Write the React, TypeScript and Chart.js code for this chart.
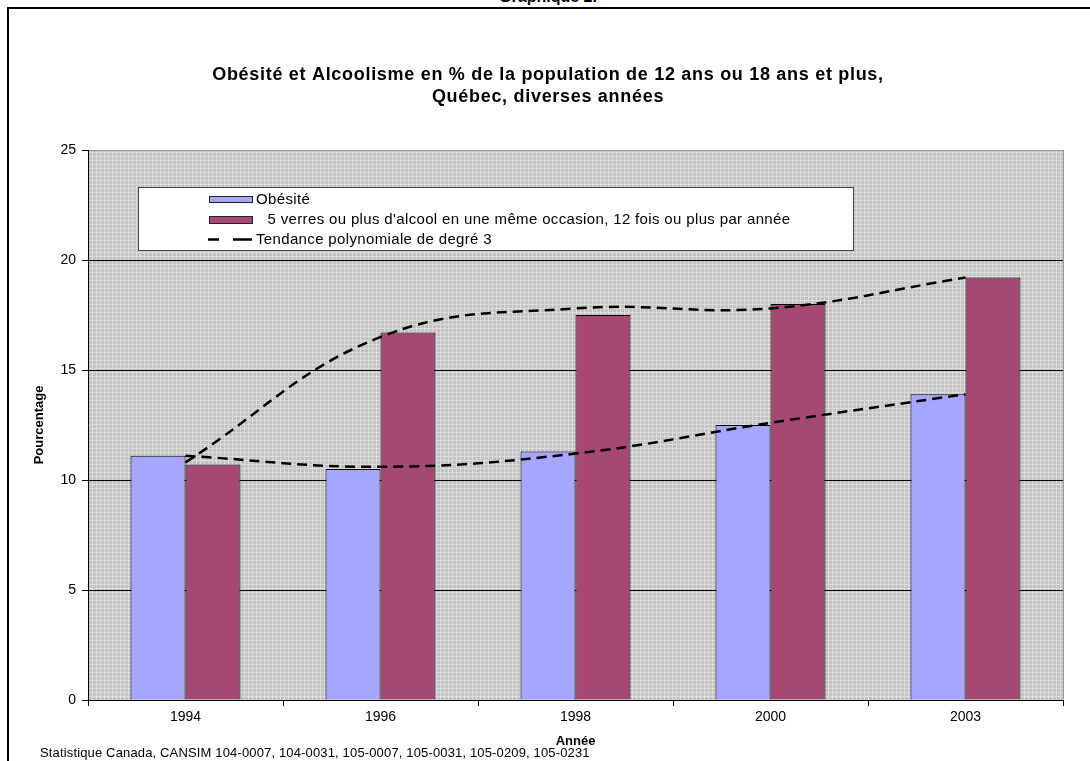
import React, { useEffect, useRef } from 'react';
import { Chart, registerables } from 'chart.js';

Chart.register(...registerables);

const years = ['1994', '1996', '1998', '2000', '2003'];
const obesite = [11.1, 10.5, 11.3, 12.5, 13.9];
const alcool = [10.7, 16.7, 17.5, 18.0, 19.2];
const trendObesite = [11.1, 10.6, 11.2, 12.6, 13.9];
const trendAlcool = [10.8, 16.5, 17.8, 17.8, 19.2];
const yMin = 0;
const yMax = 25;
const yStep = 5;

const headerText = 'Graphique 2.';
const titleLines = [
  'Obésité et Alcoolisme en % de la population de 12 ans ou 18 ans et plus,',
  'Québec, diverses années',
];
const legendLabels = [
  'Obésité',
  ' 5 verres ou plus d\'alcool en une même occasion, 12 fois ou plus par année',
  'Tendance polynomiale de degré 3',
];
const xTitle = 'Année';
const yTitle = 'Pourcentage';
const footnote =
  'Statistique Canada, CANSIM 104-0007, 104-0031, 105-0007, 105-0031, 105-0209, 105-0231';

const FONT = '"Liberation Sans", Arial, sans-serif';
const C_OBE = '#a6a6ff';
const C_ALC = '#a64874';

function makePattern(ctx: CanvasRenderingContext2D) {
  const p = document.createElement('canvas');
  p.width = 4;
  p.height = 4;
  const c = p.getContext('2d')!;
  c.fillStyle = '#c2c2c2';
  c.fillRect(0, 0, 4, 4);
  c.fillStyle = '#dcdcdc';
  c.fillRect(0, 0, 4, 1);
  c.fillRect(0, 0, 1, 4);
  return ctx.createPattern(p, 'repeat');
}

function setSpacing(ctx: any, v: string) {
  if ('letterSpacing' in ctx) ctx.letterSpacing = v;
}

const decorPlugin = {
  id: 'decor',
  beforeDraw(chart: any) {
    const { ctx, chartArea: a } = chart;
    ctx.save();
    const pat = makePattern(ctx);
    ctx.fillStyle = pat || '#c8c8c8';
    ctx.fillRect(a.left, a.top, a.right - a.left, a.bottom - a.top);
    ctx.strokeStyle = '#999';
    ctx.lineWidth = 1;
    ctx.beginPath();
    ctx.moveTo(a.right + 0.5, a.top);
    ctx.lineTo(a.right + 0.5, a.bottom);
    ctx.stroke();
    ctx.restore();
  },
  afterDraw(chart: any) {
    const { ctx } = chart;
    ctx.save();
    // titles
    ctx.fillStyle = '#000';
    ctx.textAlign = 'center';
    ctx.textBaseline = 'middle';
    ctx.font = `bold 18px ${FONT}`;
    setSpacing(ctx, '0.7px');
    ctx.fillText(titleLines[0], 548, 75);
    ctx.fillText(titleLines[1], 548, 97);

    // legend
    const lx = 138, ly = 187, lw = 715, lh = 63;
    ctx.fillStyle = '#fff';
    ctx.fillRect(lx, ly, lw, lh);
    ctx.strokeStyle = '#444';
    ctx.lineWidth = 1;
    ctx.strokeRect(lx + 0.5, ly + 0.5, lw, lh);

    const rows = [199.5, 220, 239.5];
    ctx.fillStyle = C_OBE;
    ctx.fillRect(209, 196, 44, 7);
    ctx.strokeStyle = '#222';
    ctx.strokeRect(209.5, 196.5, 43, 6);
    ctx.fillStyle = C_ALC;
    ctx.fillRect(209, 216, 44, 8);
    ctx.strokeRect(209.5, 216.5, 43, 7);
    ctx.strokeStyle = '#000';
    ctx.lineWidth = 2.5;
    ctx.beginPath();
    ctx.moveTo(208, rows[2]);
    ctx.lineTo(219, rows[2]);
    ctx.moveTo(233, rows[2]);
    ctx.lineTo(252, rows[2]);
    ctx.stroke();

    ctx.fillStyle = '#000';
    ctx.textAlign = 'left';
    ctx.font = `15px ${FONT}`;
    setSpacing(ctx, '0.35px');
    ctx.fillText(legendLabels[0], 256, rows[0]);
    ctx.fillText(legendLabels[1], 263, rows[1]);
    ctx.fillText(legendLabels[2], 256, rows[2]);

    // footnote
    ctx.font = `13px ${FONT}`;
    setSpacing(ctx, '0.15px');
    ctx.fillText(footnote, 40, 753);
    setSpacing(ctx, '0px');
    ctx.restore();
  },
};

export default function App() {
  const ref = useRef<HTMLCanvasElement>(null);

  useEffect(() => {
    if (!ref.current) return;
    const chart = new Chart(ref.current, {
      type: 'bar',
      data: {
        labels: years,
        datasets: [
          {
            type: 'line',
            label: legendLabels[2],
            data: trendAlcool,
            borderColor: '#000',
            borderWidth: 2.5,
            borderDash: [10, 6],
            pointRadius: 0,
            tension: 0.4,
            fill: false,
          } as any,
          {
            type: 'line',
            label: legendLabels[2],
            data: trendObesite,
            borderColor: '#000',
            borderWidth: 2.5,
            borderDash: [10, 6],
            pointRadius: 0,
            tension: 0.4,
            fill: false,
          } as any,
          {
            label: legendLabels[0],
            data: obesite,
            backgroundColor: C_OBE,
            borderColor: '#000',
            borderWidth: 1,
            categoryPercentage: 0.564,
            barPercentage: 1,
          },
          {
            label: legendLabels[1],
            data: alcool,
            backgroundColor: C_ALC,
            borderColor: '#000',
            borderWidth: 1,
            categoryPercentage: 0.564,
            barPercentage: 1,
          },
        ],
      },
      options: {
        responsive: false,
        animation: false,
        devicePixelRatio: 1,
        layout: { padding: { top: 150, right: 27, left: 0, bottom: 0 } },
        plugins: {
          legend: { display: false },
          title: { display: false },
          tooltip: { enabled: false },
        },
        scales: {
          x: {
            offset: true,
            grid: {
              display: true,
              drawOnChartArea: false,
              offset: true,
              tickLength: 6,
              color: '#000',
            },
            border: { color: '#000', width: 1 },
            ticks: { color: '#000', font: { family: FONT, size: 14 }, padding: 3 },
            title: {
              display: true,
              text: xTitle,
              color: '#000',
              font: { family: FONT, size: 13, weight: 'bold' },
              padding: { top: 0, bottom: 12 },
            },
            afterFit: (s: any) => {
              s.height = 61;
            },
          },
          y: {
            min: yMin,
            max: yMax,
            ticks: {
              stepSize: yStep,
              color: '#000',
              font: { family: FONT, size: 14 },
              padding: 6,
            },
            grid: {
              color: (c: any) => (c.tick && c.tick.value === yMax ? '#999' : '#000'),
              tickColor: '#000',
              tickLength: 6,
            },
            border: { color: '#000', width: 1 },
            title: {
              display: true,
              text: yTitle,
              color: '#000',
              font: { family: FONT, size: 13, weight: 'bold' },
              padding: { top: 32, bottom: 0 },
            },
            afterFit: (s: any) => {
              s.width = 88;
            },
          },
        },
      },
      plugins: [decorPlugin],
    });
    return () => chart.destroy();
  }, []);

  return (
    <div style={{ position: 'absolute', left: 0, top: 0, width: 1090, height: 761, overflow: 'hidden', background: '#fff' }}>
      <div
        style={{
          position: 'absolute',
          left: 7,
          top: 7,
          width: 1200,
          height: 900,
          borderLeft: '2px solid #000',
          borderTop: '2px solid #000',
        }}
      />
      <div
        style={{
          position: 'absolute',
          left: 0,
          width: 1096,
          top: -12,
          textAlign: 'center',
          fontFamily: FONT,
          fontWeight: 'bold',
          fontSize: 16,
          lineHeight: '18px',
          color: '#000',
          whiteSpace: 'nowrap',
        }}
      >
        {headerText}
      </div>
      <canvas ref={ref} width={1090} height={761} style={{ position: 'absolute', left: 0, top: 0 }} />
    </div>
  );
}
